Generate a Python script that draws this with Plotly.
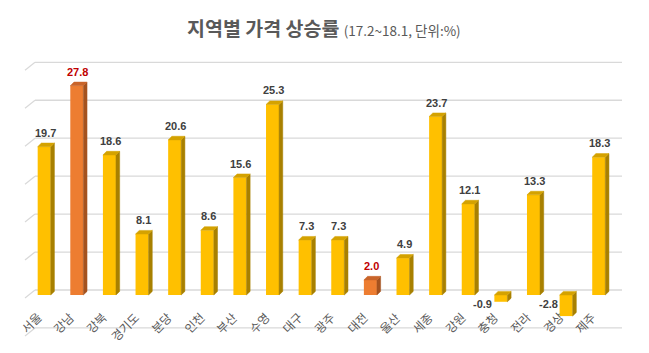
import plotly.graph_objects as go

# ---- data ----
categories = ["서울", "강남", "강북", "경기도", "분당", "인천", "부산", "수영", "대구",
              "광주", "대전", "울산", "세종", "강원", "충청", "전라", "경상", "제주"]
values = [19.7, 27.8, 18.6, 8.1, 20.6, 8.6, 15.6, 25.3, 7.3,
          7.3, 2.0, 4.9, 23.7, 12.1, -0.9, 13.3, -2.8, 18.3]
highlight = ["강남", "대전"]
grid_values = [-5, 0, 5, 10, 15, 20, 25, 30]
title_main = "지역별 가격 상승률"
title_sub = "(17.2~18.1, 단위:%)"

# ---- style ----
W, H = 649, 353
PX_X = 32.62          # px per category
PX_Y = 7.53           # px per unit
X0_PX, Y0_PX = 44.2, 295.0
BAR_W = 0.40
DX = 3.7 / PX_X       # 3D depth in x
DY = 3.6 / PX_Y       # 3D depth in y
KFONT = "Noto Sans CJK KR"

YEL = dict(front="#FFC000", side="#A88000", top="#D4A200")
ORA = dict(front="#ED7D31", side="#A4521F", top="#C9642A")

xr = [-X0_PX / PX_X, -X0_PX / PX_X + W / PX_X]
yr = [-(H - Y0_PX) / PX_Y, Y0_PX / PX_Y]

idx = list(range(len(categories)))
is_hi = [c in highlight for c in categories]

fig = go.Figure()

# front faces
fig.add_trace(go.Bar(
    x=idx, y=values, width=BAR_W,
    marker=dict(color=[ORA["front"] if h else YEL["front"] for h in is_hi],
                line=dict(width=0)),
    hoverinfo="skip"))


def faces(hflag, kind):
    xs, ys = [], []
    for i, v, h in zip(idx, values, is_hi):
        if h != hflag:
            continue
        lo, hi = min(v, 0), max(v, 0)
        l, r = i - BAR_W / 2, i + BAR_W / 2
        if kind == "side":
            xs += [r, r + DX, r + DX, r, r, None]
            ys += [lo, lo + DY, hi + DY, hi, lo, None]
        else:
            xs += [l, l + DX, r + DX, r, l, None]
            ys += [hi, hi + DY, hi + DY, hi, hi, None]
    return xs, ys


for hflag, pal in ((False, YEL), (True, ORA)):
    for kind in ("side", "top"):
        xs, ys = faces(hflag, kind)
        fig.add_trace(go.Scatter(
            x=xs, y=ys, mode="lines", fill="toself",
            fillcolor=pal[kind], line=dict(color=pal[kind], width=0.5),
            hoverinfo="skip"))

# back-wall gridlines (3D look)
GRID_BACK_DY = 5.0 / PX_Y
GRID_SCALE = 7.59 / PX_Y
LEFT_FRONT_X = (25 - X0_PX) / PX_X
LEFT_BACK_X = (35 - X0_PX) / PX_X
RIGHT_X = (622 - X0_PX) / PX_X
DIAG_DY = 8.0 / PX_Y
shapes = []
for g in grid_values:
    yb = GRID_BACK_DY + g * GRID_SCALE
    shapes.append(dict(type="line", xref="x", yref="y", layer="below",
                       x0=LEFT_BACK_X, x1=RIGHT_X, y0=yb, y1=yb,
                       line=dict(color="#D9D9D9", width=1.3)))
    shapes.append(dict(type="line", xref="x", yref="y", layer="below",
                       x0=LEFT_FRONT_X, x1=LEFT_BACK_X, y0=yb - DIAG_DY, y1=yb,
                       line=dict(color="#D9D9D9", width=1.3)))

annotations = []
# value labels
for i, v, h in zip(idx, values, is_hi):
    col = "#C00000" if h else "#404040"
    if v >= 0:
        annotations.append(dict(x=i, y=v, xref="x", yref="y", text=f"<b>{v:.1f}</b>",
                                showarrow=False, xanchor="center", yanchor="middle",
                                xshift=1, yshift=14,
                                font=dict(family="Liberation Sans", size=11, color=col)))
    else:
        annotations.append(dict(x=i - BAR_W / 2, y=0, xref="x", yref="y", text=f"<b>{v:.1f}</b>",
                                showarrow=False, xanchor="right", yanchor="middle",
                                xshift=0, yshift=-9,
                                font=dict(family="Liberation Sans", size=11, color=col)))

# category labels (rotated)
for i, c in zip(idx, categories):
    annotations.append(dict(x=i, y=0, xref="x", yref="y", text=c, showarrow=False,
                            textangle=-45, xanchor="right", yanchor="top",
                            xshift=3, yshift=-11,
                            font=dict(family=KFONT, size=12, color="#595959")))

# title
annotations.append(dict(x=324 / W, y=1 - 27 / H, xref="paper", yref="paper",
                        xanchor="center", yanchor="middle", showarrow=False,
                        text=f"<b>{title_main}</b> <span style='font-size:13.5px'>{title_sub}</span>",
                        font=dict(family=KFONT, size=19.5, color="#595959")))

fig.update_layout(
    width=W, height=H, margin=dict(l=0, r=0, t=0, b=0),
    paper_bgcolor="white", plot_bgcolor="white",
    showlegend=False, barmode="overlay",
    xaxis=dict(range=xr, visible=False, fixedrange=True),
    yaxis=dict(range=yr, visible=False, fixedrange=True),
    shapes=shapes, annotations=annotations,
)

fig.write_html("out.html", config={"displayModeBar": False})
